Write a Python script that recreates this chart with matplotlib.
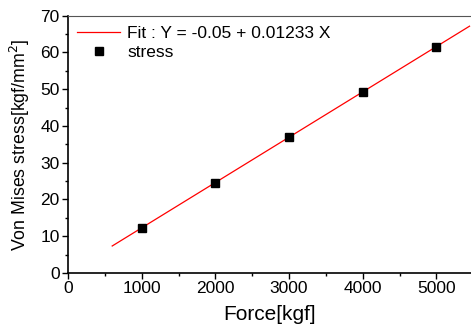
import numpy as np
import matplotlib.pyplot as plt
from matplotlib.ticker import MultipleLocator

plt.rcParams['font.family'] = ['Liberation Sans', 'DejaVu Sans']

# Data
force = [1000, 2000, 3000, 4000, 5000]
stress = [12.3, 24.6, 36.9, 49.3, 61.6]
intercept = -0.05
slope = 0.01233
fit_x = np.array([600, 5450])

W, H = 471, 329
fig = plt.figure(figsize=(W / 100, H / 100), dpi=100)
ax = fig.add_axes([68 / W, 56 / H, 1 - 68 / W, (273 - 15.7) / H])

ax.plot(fit_x, intercept + slope * fit_x, color='red', lw=0.9,
        label='Fit : Y = -0.05 + 0.01233 X')
ax.plot(force, stress, 's', color='black', ms=6, lw=0, label='stress')

ax.set_xlim(0, 5470)
ax.set_ylim(0, 70)
ax.xaxis.set_major_locator(MultipleLocator(1000))
ax.xaxis.set_minor_locator(MultipleLocator(500))
ax.yaxis.set_major_locator(MultipleLocator(10))
ax.yaxis.set_minor_locator(MultipleLocator(5))
ax.tick_params(which='major', direction='out', length=4, width=1, labelsize=12.5, pad=2)
ax.tick_params(which='minor', direction='out', length=2.5, width=1)
ax.spines['right'].set_visible(False)
ax.spines['top'].set_color('#555555')
ax.spines['top'].set_linewidth(0.8)
ax.spines['left'].set_linewidth(1.2)
ax.spines['bottom'].set_linewidth(1.2)

ax.set_xlabel('Force[kgf]', fontsize=15, labelpad=6)
ax.set_ylabel('Von Mises stress[kgf/mm$^2$]', fontsize=12.8, labelpad=6)

leg = ax.legend(loc='upper left', bbox_to_anchor=(9 / (W - 68), 1 - 10 / 257.3),
                frameon=False, fontsize=12.5, handlelength=2.5, markerscale=0.9,
                borderaxespad=0, borderpad=0, labelspacing=0.22, handletextpad=0.4)

fig.savefig('out.png', dpi=100)
